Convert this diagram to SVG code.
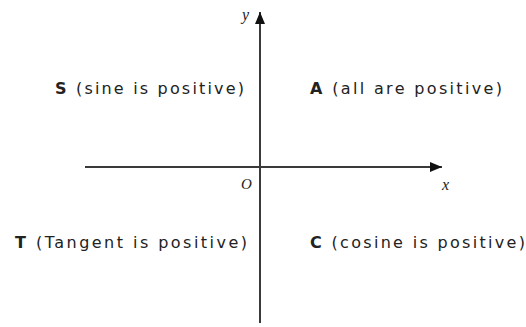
<svg xmlns="http://www.w3.org/2000/svg" width="526" height="327" viewBox="0 0 526 327">
<style>
.ax{stroke:#3a3a3a;stroke-width:2;fill:none}
.lb{font-family:"DejaVu Sans",Verdana,sans-serif;font-size:16px;fill:#222}
.b{font-weight:bold}
.it{font-family:"Liberation Serif","Times New Roman",serif;font-style:italic;fill:#222}
</style>
<defs>
<marker id="ah" viewBox="0 0 12 10" refX="12" refY="5" markerWidth="12" markerHeight="10" markerUnits="userSpaceOnUse" orient="auto">
<path d="M0,0 L12,5 L0,10 Z" fill="#111"/>
</marker>
</defs>
<rect width="526" height="327" fill="#fff"/>
<g id="connectors">
<line class="ax" x1="85" y1="167" x2="442" y2="167" marker-end="url(#ah)"/>
<line class="ax" x1="260" y1="323" x2="260" y2="12" marker-end="url(#ah)"/>
</g>
<g id="axis-labels">
<text class="it" x="242" y="20" font-size="16">y</text>
<text class="it" x="442" y="190" font-size="16">x</text>
<text class="it" x="241" y="189" font-size="15">O</text>
</g>
<g id="S"><text class="lb" x="55" y="94" textLength="189"><tspan class="b">S</tspan> (sine is positive)</text></g>
<g id="A"><text class="lb" x="310" y="94" textLength="192"><tspan class="b">A</tspan> (all are positive)</text></g>
<g id="T"><text class="lb" x="15" y="248" textLength="232"><tspan class="b">T</tspan> (Tangent is positive)</text></g>
<g id="C"><text class="lb" x="310" y="248" textLength="215"><tspan class="b">C</tspan> (cosine is positive)</text></g>
</svg>
